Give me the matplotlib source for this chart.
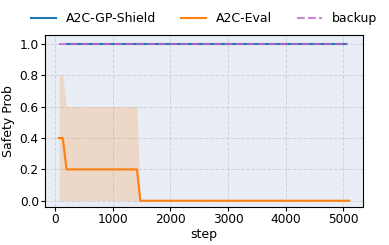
import numpy as np
import matplotlib
matplotlib.use("Agg")
import matplotlib.pyplot as plt

# A2C-Eval evaluation curve (mean and spread)
eval_steps = [70, 135, 200, 1420, 1480, 5100]
eval_mean = [0.4, 0.4, 0.2, 0.2, 0.0, 0.0]
eval_upper = [0.8, 0.8, 0.6, 0.6, 0.0, 0.0]
eval_lower = [0.0, 0.0, 0.0, 0.0, 0.0, 0.0]

# shield and backup lines
shield_steps = [200, 5040]
shield_vals = [1.0, 1.0]
backup_steps = [70, 5080]
backup_vals = [1.0, 1.0]

xticks = [0, 1000, 2000, 3000, 4000, 5000]
yticks = [0.0, 0.2, 0.4, 0.6, 0.8, 1.0]

fig, ax = plt.subplots(figsize=(3.89, 2.45), dpi=100)
ax.set_facecolor('#e9eef6')

ax.plot(shield_steps, shield_vals, color='tab:blue', lw=1.5, label='A2C-GP-Shield')
ax.plot(eval_steps, eval_mean, color='tab:orange', lw=1.5, label='A2C-Eval')
ax.fill_between(eval_steps, eval_lower, eval_upper, color='tab:orange', alpha=0.2, lw=0)
ax.plot(backup_steps, backup_vals, color='#c063c8', lw=1.5, ls='--', alpha=0.8, label='backup')

ax.set_xlim(-173, 5340)
ax.set_ylim(-0.04, 1.057)
ax.set_xticks(xticks)
ax.set_yticks(yticks)
ax.tick_params(labelsize=8.7, length=3, pad=1.5)
ax.grid(True, ls='--', color='#cfd3da', lw=0.7)
ax.set_axisbelow(True)
ax.set_xlabel('step', fontsize=9, labelpad=1)
ax.set_ylabel('Safety Prob', fontsize=9, labelpad=3)

ax.legend(loc='lower center', bbox_to_anchor=(0.5, 1.0), ncol=3, frameon=False,
          fontsize=9, handlelength=2.0, handletextpad=0.8, columnspacing=2.0,
          borderaxespad=0.4)

fig.subplots_adjust(left=0.1157, right=0.9332, top=0.857, bottom=0.155)
fig.savefig('out.png', dpi=100)
